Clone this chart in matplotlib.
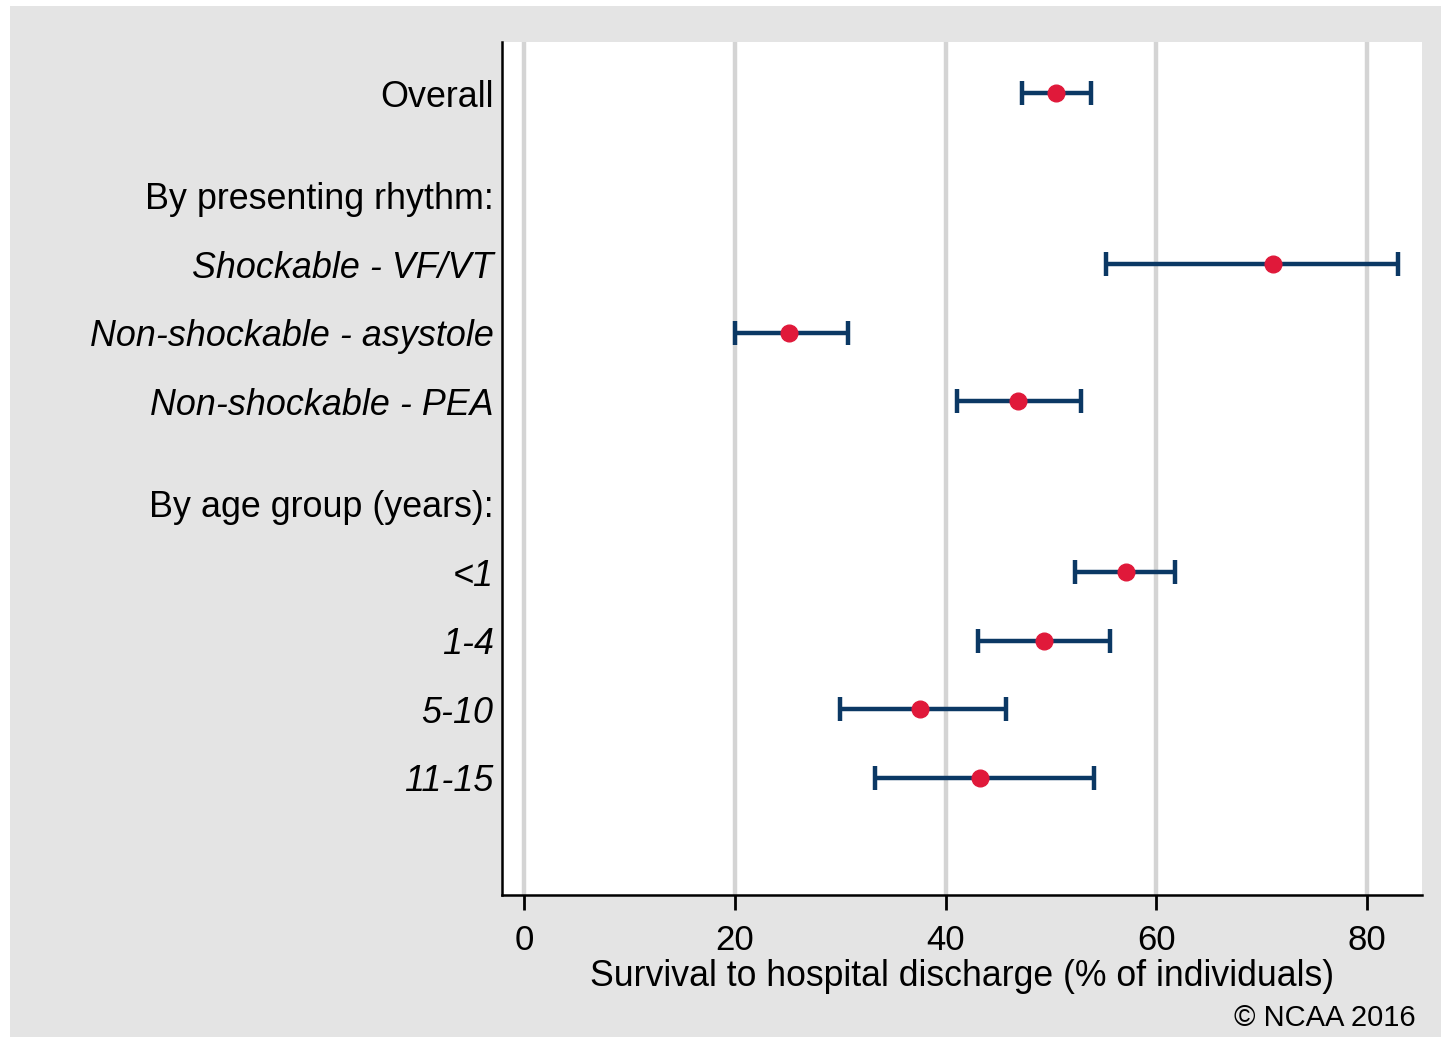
import matplotlib.pyplot as plt
from matplotlib.patches import Rectangle

# Data
labels = ["Overall", "By presenting rhythm:", "Shockable - VF/VT",
          "Non-shockable - asystole", "Non-shockable - PEA",
          "By age group (years):", "<1", "1-4", "5-10", "11-15"]
rows = [0, 1.5, 2.5, 3.5, 4.5, 6, 7, 8, 9, 10]
italic = [False, False, True, True, True, False, True, True, True, True]

est_labels = ["Overall", "Shockable - VF/VT", "Non-shockable - asystole",
              "Non-shockable - PEA", "<1", "1-4", "5-10", "11-15"]
est = [50.5, 71.1, 25.1, 46.9, 57.1, 49.3, 37.6, 43.3]
lo = [47.2, 55.2, 20.0, 41.1, 52.3, 43.1, 30.0, 33.3]
hi = [53.8, 82.9, 30.7, 52.8, 61.8, 55.6, 45.7, 54.1]

xticks = [0, 20, 40, 60, 80]

plt.rcParams['font.family'] = ['Liberation Sans', 'DejaVu Sans']

fig = plt.figure(figsize=(14.41, 10.37), dpi=100)
fig.patch.set_facecolor("white")
fig.patches.append(Rectangle((10 / 1441, 0), 1 - 10 / 1441, 1 - 6 / 1037,
                             transform=fig.transFigure, facecolor="#e4e4e4",
                             edgecolor="none", zorder=-10))

ax = fig.add_axes([502 / 1441, 1 - 895 / 1037, 920 / 1441, 853 / 1037])
ax.set_facecolor("white")

ypos = [rows[labels.index(l)] for l in est_labels]
xerr = [[e - l for e, l in zip(est, lo)], [h - e for e, h in zip(est, hi)]]
ax.errorbar(est, ypos, xerr=xerr, fmt="none", ecolor="#0b3864",
            elinewidth=3.2, capsize=8.5, capthick=3.2, zorder=3)
ax.plot(est, ypos, "o", color="#e0193a", markersize=12, zorder=4)

ax.set_xlim(-2.1, 85.2)
ax.set_ylim(11.71, -0.745)
ax.set_xticks(xticks)
ax.set_xticklabels([str(t) for t in xticks], fontsize=25)
ax.set_yticks(rows)
ax.set_yticklabels(labels, fontsize=25.8)
for t, it in zip(ax.get_yticklabels(), italic):
    if it:
        t.set_style("italic")

ax.tick_params(axis="y", length=0, pad=6)
ax.tick_params(axis="x", length=11, width=2, pad=10)
ax.grid(axis="x", color="#d4d4d4", linewidth=3.2, zorder=1)
ax.set_axisbelow(True)
for s in ["top", "right"]:
    ax.spines[s].set_visible(False)
for s in ["left", "bottom"]:
    ax.spines[s].set_linewidth(1.8)

ax.set_xlabel("Survival to hospital discharge (% of individuals)", fontsize=25.7,
              labelpad=1)

fig.text(1416 / 1441, 1 - 1018 / 1037, "\u00a9 NCAA 2016", fontsize=21,
         ha="right", va="center")

plt.savefig("out.png", dpi=100)
